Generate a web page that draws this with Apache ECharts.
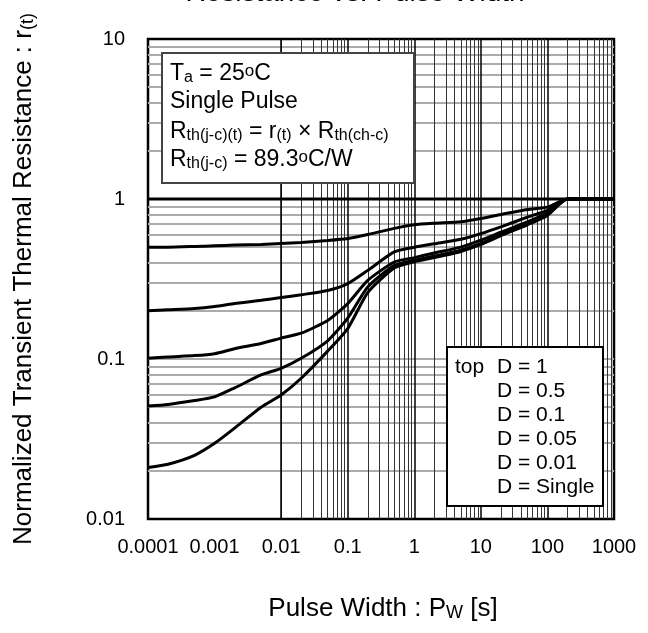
<!DOCTYPE html>
<html>
<head>
<meta charset="utf-8">
<script src="https://cdn.jsdelivr.net/npm/echarts@6/dist/echarts.min.js"></script>
<style>
html,body{margin:0;padding:0;background:#fff;}
#c{width:648px;height:633px;}
</style>
</head>
<body>
<div id="c"></div>
<script>
// ---- data ----
const pulseWidth = [0.0001, 0.0002, 0.0005, 0.001, 0.002, 0.005, 0.01, 0.02, 0.05, 0.1, 0.2, 0.5, 1, 2, 5, 10, 20, 50, 100, 200, 500, 1000];
const dutyD1     = [1, 1, 1, 1, 1, 1, 1, 1, 1, 1, 1, 1, 1, 1, 1, 1, 1, 1, 1, 1, 1, 1];
const dutyD05    = [0.50, 0.50, 0.505, 0.51, 0.515, 0.52, 0.527, 0.535, 0.55, 0.566, 0.60, 0.655, 0.69, 0.705, 0.72, 0.755, 0.80, 0.86, 0.89, 1, 1, 1];
const dutyD01    = [0.20, 0.203, 0.207, 0.213, 0.222, 0.233, 0.242, 0.252, 0.268, 0.296, 0.358, 0.467, 0.50, 0.525, 0.56, 0.608, 0.67, 0.77, 0.85, 1, 1, 1];
const dutyD005   = [0.101, 0.103, 0.105, 0.108, 0.116, 0.125, 0.135, 0.145, 0.174, 0.222, 0.31, 0.404, 0.43, 0.46, 0.50, 0.553, 0.62, 0.72, 0.82, 1, 1, 1];
const dutyD001   = [0.0508, 0.052, 0.055, 0.058, 0.066, 0.0795, 0.0875, 0.101, 0.13, 0.18, 0.282, 0.385, 0.414, 0.44, 0.478, 0.527, 0.60, 0.70, 0.80, 1, 1, 1];
const dutySingle = [0.021, 0.022, 0.025, 0.0297, 0.037, 0.05, 0.0596, 0.0758, 0.112, 0.155, 0.26, 0.37, 0.405, 0.43, 0.47, 0.52, 0.59, 0.69, 0.79, 1, 1, 1];

const xTickValues = [0.0001, 0.001, 0.01, 0.1, 1, 10, 100, 1000];
const xTickLabels = ['0.0001', '0.001', '0.01', '0.1', '1', '10', '100', '1000'];
const yTickValues = [0.01, 0.1, 1, 10];
const yTickLabels = ['0.01', '0.1', '1', '10'];

const legendLabels = ['D = 1', 'D = 0.5', 'D = 0.1', 'D = 0.05', 'D = 0.01', 'D = Single'];

// ---- helpers ----
const FONT = '"Liberation Sans", Arial, sans-serif';
function pickLabel(vals, labels, v) {
  for (let i = 0; i < vals.length; i++) {
    if (Math.abs(Math.log10(vals[i]) - Math.log10(v)) < 1e-6) return labels[i];
  }
  return '';
}
const minorX = [], majorX = [], minorY = [], majorY = [0.1];
for (let d = -4; d <= 2; d++) {
  for (let k = 2; k <= 9; k++) minorX.push(k * Math.pow(10, d));
  if (d > -4) majorX.push(Math.pow(10, d));
}
for (let d = -2; d <= 0; d++) {
  for (let k = 2; k <= 9; k++) minorY.push(k * Math.pow(10, d));
}
function lineSeries(name, vals, axisKey, color, width, z) {
  return {
    name: name, type: 'line', data: [], z: z, silent: true,
    markLine: {
      silent: true, symbol: ['none', 'none'], label: {show: false},
      animation: false,
      lineStyle: {type: 'solid', color: color, width: width},
      emphasis: {disabled: true},
      data: vals.map(v => ({[axisKey]: v}))
    }
  };
}
function curve(name, vals) {
  return {
    name: name, type: 'line', z: 5,
    data: pulseWidth.map((x, i) => [x, vals[i]]),
    symbol: 'none', smooth: 0.2,
    lineStyle: {color: '#000', width: 3},
    emphasis: {disabled: true}
  };
}

const sub = {verticalAlign: 'bottom', fontFamily: FONT, fill: '#000'};
const sup = {verticalAlign: 'top', fontFamily: FONT, fill: '#000'};
function txt(x, y, text, size, opts) {
  return {
    type: 'text', x: x, y: y, z: 100, silent: true,
    style: Object.assign({
      text: text, font: size + 'px ' + FONT, fill: '#000',
      align: 'left', verticalAlign: 'middle',
      rich: {
        sub: Object.assign({}, sub, {fontSize: Math.round(size * 0.68), lineHeight: Math.round(size * 0.45)}),
        sup: Object.assign({}, sup, {fontSize: Math.round(size * 0.72), lineHeight: Math.round(size * 0.45)})
      }
    }, opts || {})
  };
}

const chart = echarts.init(document.getElementById('c'), null, {renderer: 'canvas'});
const option = {
  animation: false,
  backgroundColor: '#fff',
  grid: {left: 148, right: 34, top: 39, bottom: 114, show: true, borderColor: '#000', borderWidth: 2.5, z: 3, backgroundColor: 'transparent'},
  xAxis: {
    type: 'log', logBase: 10, min: 0.0001, max: 1000,
    axisLine: {show: false}, axisTick: {show: false}, splitLine: {show: false},
    axisLabel: {fontSize: 20, fontFamily: FONT, color: '#000', margin: 18,
      formatter: v => pickLabel(xTickValues, xTickLabels, v)}
  },
  yAxis: {
    type: 'log', logBase: 10, min: 0.01, max: 10,
    axisLine: {show: false}, axisTick: {show: false}, splitLine: {show: false},
    axisLabel: {fontSize: 20, fontFamily: FONT, color: '#000', margin: 23,
      formatter: v => pickLabel(yTickValues, yTickLabels, v)}
  },
  series: [
    lineSeries('gridMinorY', minorY, 'yAxis', '#ababab', 2, 1),
    lineSeries('gridMajorY', majorY, 'yAxis', '#ababab', 2, 1),
    lineSeries('gridMinorX', minorX, 'xAxis', '#333', 1, 2),
    lineSeries('gridMajorX', majorX, 'xAxis', '#000', 1.5, 2),
    curve(legendLabels[0], dutyD1),
    curve(legendLabels[1], dutyD05),
    curve(legendLabels[2], dutyD01),
    curve(legendLabels[3], dutyD005),
    curve(legendLabels[4], dutyD001),
    curve(legendLabels[5], dutySingle)
  ],
  graphic: {elements: [
    // title (cut off at top)
    txt(355, -7, 'Resistance vs. Pulse Width', 28, {align: 'center'}),
    // y axis title
    Object.assign(txt(24, 279, 'Normalized Transient Thermal Resistance : r{sub|(t)}', 26, {align: 'center'}), {rotation: Math.PI / 2}),
    // x axis title
    txt(383, 609, 'Pulse Width : P{sub|W} [s]', 26, {align: 'center'}),
    // info box
    {type: 'rect', z: 90, silent: true, shape: {x: 162, y: 53, width: 252, height: 130},
      style: {fill: '#fff', stroke: '#444', lineWidth: 2}},
    txt(170, 74, 'T{sub|a} = 25{sup|o}C', 23),
    txt(170, 102, 'Single Pulse', 23),
    txt(170, 132, 'R{sub|th(j-c)(t)} = r{sub|(t)} × R{sub|th(ch-c)}', 23),
    txt(170, 160, 'R{sub|th(j-c)} = 89.3{sup|o}C/W', 23),
    // legend box
    {type: 'rect', z: 90, silent: true, shape: {x: 447, y: 347, width: 156, height: 159},
      style: {fill: '#fff', stroke: '#000', lineWidth: 2}},
    txt(455, 367, 'top', 21),
    txt(497, 367, legendLabels[0], 21),
    txt(497, 391, legendLabels[1], 21),
    txt(497, 415, legendLabels[2], 21),
    txt(497, 439, legendLabels[3], 21),
    txt(497, 463, legendLabels[4], 21),
    txt(497, 487, legendLabels[5], 21)
  ]}
};
chart.setOption(option);
</script>
</body>
</html>
